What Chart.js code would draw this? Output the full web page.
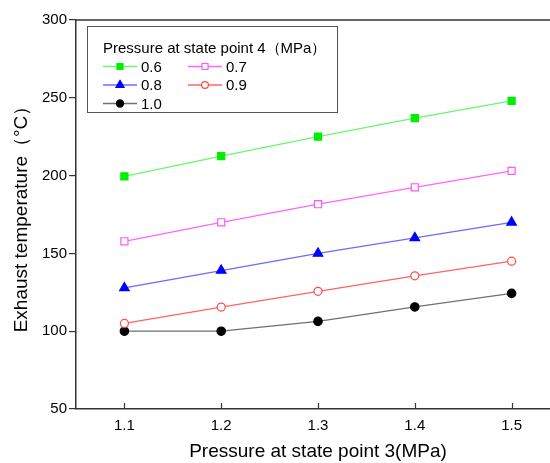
<!DOCTYPE html>
<html>
<head>
<meta charset="utf-8">
<script src="https://cdn.jsdelivr.net/npm/chart.js@4/dist/chart.umd.min.js"></script>
<style>
  html, body { margin: 0; padding: 0; background: #fff; overflow: hidden; }
  #wrap { width: 570px; height: 463px; }
</style>
</head>
<body>
<div id="wrap"><canvas id="chart" width="570" height="463"></canvas></div>
<script>
// data
const pressure3 = [1.1, 1.2, 1.3, 1.4, 1.5];
const seriesNames = ["0.6", "0.7", "0.8", "0.9", "1.0"];
const temp06 = [199.5, 212.5, 225, 237, 248];
const temp07 = [157.8, 170, 181.6, 192.5, 203];
const temp08 = [127.8, 139, 150, 160, 170];
const temp09 = [105, 115.5, 125.6, 135.6, 145];
const temp10 = [100, 100, 106.3, 115.6, 124.3];
const yTicks = [50, 100, 150, 200, 250, 300];
const xTicks = [1.1, 1.2, 1.3, 1.4, 1.5];

const FONT = "'Liberation Sans', Arial, sans-serif";

function pts(values) {
  return pressure3.map((x, i) => ({ x: x, y: values[i] }));
}

// series styles
const styles = [
  { line: "#6cf76c", fill: "#00ee00", stroke: "#00ee00", shape: "rect", r: 5 },
  { line: "#ff66ff", fill: "#ffffff", stroke: "#ff55ff", shape: "rect", r: 5 },
  { line: "#6b6bff", fill: "#0000ff", stroke: "#0000ff", shape: "triangle", r: 5.5 },
  { line: "#ff6464", fill: "#ffffff", stroke: "#ff4a4a", shape: "circle", r: 4 },
  { line: "#707070", fill: "#000000", stroke: "#000000", shape: "circle", r: 4.2 }
];
const allValues = [temp06, temp07, temp08, temp09, temp10];

const datasets = allValues.map((vals, i) => ({
  label: seriesNames[i],
  data: pts(vals),
  borderColor: styles[i].line,
  borderWidth: 1.3,
  pointStyle: styles[i].shape,
  pointRadius: styles[i].r,
  pointHoverRadius: styles[i].r,
  pointBackgroundColor: styles[i].fill,
  pointBorderColor: styles[i].stroke,
  pointBorderWidth: 1.2,
  tension: 0
}));

// frame top line, inward x ticks and the boxed legend
const framePlugin = {
  id: "frame",
  afterDraw(chart) {
    const ctx = chart.ctx;
    const area = chart.chartArea;
    const xs = chart.scales.x;
    ctx.save();
    ctx.strokeStyle = "#333";
    ctx.lineWidth = 1.5;
    ctx.beginPath();
    ctx.moveTo(area.left, area.top);
    ctx.lineTo(area.right + 10, area.top);
    ctx.stroke();

    ctx.lineWidth = 1.2;
    xTicks.forEach(v => {
      const px = Math.round(xs.getPixelForValue(v)) + 0.5;
      ctx.beginPath();
      ctx.moveTo(px, area.bottom);
      ctx.lineTo(px, area.bottom - 6);
      ctx.stroke();
    });

    // legend
    const bx = 87, by = 26, bw = 250, bh = 86;
    ctx.strokeStyle = "#555";
    ctx.lineWidth = 1;
    ctx.strokeRect(bx + 0.5, by + 0.5, bw, bh);
    ctx.fillStyle = "#000";
    ctx.font = "15px " + FONT;
    ctx.textBaseline = "middle";
    ctx.textAlign = "left";
    ctx.fillText("Pressure at state point 4（MPa）", 103, 48.5);

    const rowsY = [66.5, 85, 103.5];
    const colX = [103, 188];
    datasets.forEach((ds, i) => {
      const row = Math.floor(i / 2), col = i % 2;
      const x0 = colX[col], y0 = rowsY[row];
      ctx.strokeStyle = ds.borderColor;
      ctx.lineWidth = 1.3;
      ctx.beginPath();
      ctx.moveTo(x0, y0);
      ctx.lineTo(x0 + 34, y0);
      ctx.stroke();
      ctx.fillStyle = ds.pointBackgroundColor;
      ctx.strokeStyle = ds.pointBorderColor;
      ctx.lineWidth = ds.pointBorderWidth;
      Chart.helpers.drawPoint(ctx, {
        pointStyle: ds.pointStyle,
        radius: ds.pointRadius * 0.85,
        rotation: 0,
        borderWidth: ds.pointBorderWidth
      }, x0 + 17, y0);
      ctx.fillStyle = "#000";
      ctx.font = "15px " + FONT;
      ctx.fillText(ds.label, x0 + 38, y0 + 1);
    });
    ctx.restore();
  }
};

new Chart(document.getElementById("chart"), {
  type: "line",
  data: { datasets: datasets },
  options: {
    responsive: false,
    animation: false,
    layout: { padding: { top: 20, right: 10, left: 0, bottom: 0 } },
    plugins: {
      legend: { display: false },
      tooltip: { enabled: false }
    },
    scales: {
      x: {
        type: "linear",
        min: 1.05,
        max: 1.55,
        afterBuildTicks: scale => { scale.ticks = xTicks.map(v => ({ value: v })); },
        afterFit: scale => { scale.height = 54; },
        grid: { display: false, drawTicks: false },
        border: { display: true, color: "#333", width: 1.5 },
        ticks: {
          color: "#000",
          padding: 8,
          font: { family: FONT, size: 15 },
          callback: v => v.toFixed(1)
        },
        title: {
          display: true,
          text: "Pressure at state point 3(MPa)",
          color: "#000",
          font: { family: FONT, size: 19 },
          padding: { top: 0, bottom: 0 }
        }
      },
      y: {
        min: 50,
        max: 300,
        afterBuildTicks: scale => { scale.ticks = yTicks.map(v => ({ value: v })); },
        afterFit: scale => { scale.width = 76; },
        grid: { drawOnChartArea: false, drawTicks: true, tickLength: 7, color: "#333", lineWidth: 1.2 },
        border: { display: true, color: "#333", width: 1.5 },
        ticks: {
          color: "#000",
          padding: 2,
          font: { family: FONT, size: 15 }
        },
        title: {
          display: true,
          text: "Exhaust temperature（°C）",
          color: "#000",
          font: { family: FONT, size: 19 },
          padding: { top: 10, bottom: 0 }
        }
      }
    }
  },
  plugins: [framePlugin]
});
</script>
</body>
</html>
